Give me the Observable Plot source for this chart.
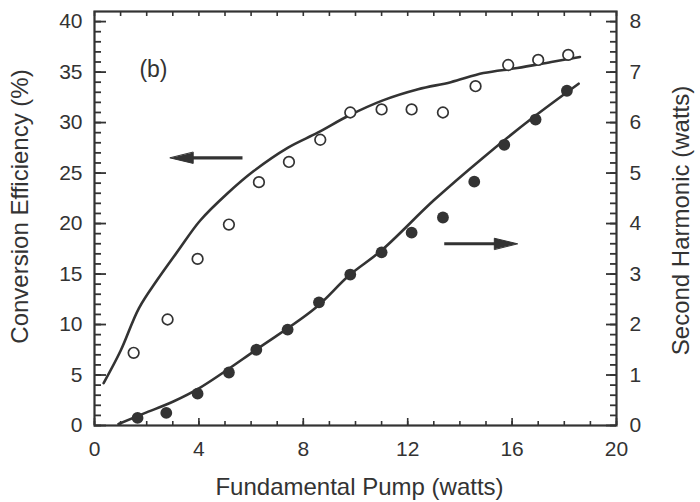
<!DOCTYPE html>
<html><head><meta charset="utf-8">
<script src="https://cdn.jsdelivr.net/npm/d3@7"></script>
<script src="https://cdn.jsdelivr.net/npm/@observablehq/plot@0.6"></script>
<style>html,body{margin:0;padding:0;background:#fff;} svg{display:block;}</style>
</head><body><div id="chart"></div>
<script>
// Measured data (open circles: conversion efficiency, left axis)
const pumpOpen   = [1.5, 2.8, 3.95, 5.15, 6.3, 7.45, 8.65, 9.8, 11.0, 12.15, 13.35, 14.6, 15.85, 17.0, 18.15];
const efficiency = [7.2, 10.5, 16.5, 19.9, 24.1, 26.1, 28.3, 31.0, 31.3, 31.3, 31.0, 33.6, 35.7, 36.2, 36.7];
// Measured data (filled circles: second harmonic, right axis)
const pumpFilled = [1.65, 2.75, 3.95, 5.15, 6.2, 7.4, 8.6, 9.8, 11.0, 12.15, 13.35, 14.55, 15.7, 16.9, 18.1];
const harmonic   = [0.15, 0.25, 0.63, 1.05, 1.5, 1.9, 2.44, 2.99, 3.43, 3.82, 4.12, 4.83, 5.56, 6.06, 6.63];
// Model curves
const effFitPump  = [0.35, 1.0, 1.7, 2.4, 3.2, 4.05, 5.1, 6.1, 7.4, 8.55, 9.75, 11.05, 12.4, 13.65, 14.9, 16.2, 17.5, 18.6];
const effFit      = [4.2, 7.4, 11.6, 14.4, 17.3, 20.3, 23.0, 25.2, 27.5, 29.0, 30.7, 32.2, 33.3, 34.0, 34.9, 35.4, 36.0, 36.5];
const harmFitPump = [0.92, 1.9, 3.0, 4.05, 6.25, 8.45, 9.75, 11.0, 13.0, 14.9, 16.8, 18.55];
const harmFit     = [0.03, 0.24, 0.47, 0.75, 1.52, 2.32, 2.97, 3.47, 4.46, 5.31, 6.1, 6.77];
// Tick labels
const xTickLabels = [0, 4, 8, 12, 16, 20];
const leftTickLabels = [0, 5, 10, 15, 20, 25, 30, 35, 40];
const rightTickLabels = [0, 1, 2, 3, 4, 5, 6, 7, 8];
// Text
const xTitle = "Fundamental Pump (watts)";
const leftTitle = "Conversion Efficiency (%)";
const rightTitle = "Second Harmonic (watts)";
const panelLabel = "(b)";
// Annotation arrows (pump, efficiency-axis units)
const arrowStart = [5.67, 13.4];
const arrowEnd   = [2.9, 16.2];
const arrowLevel = [26.5, 18.0];

const ink = "#333";
const W = 700, H = 502, ML = 94, MR = 84, MT = 11, MB = 77;
const innerW = W - ML - MR, innerH = H - MT - MB;
const toLeft = h => h * 5;          // 8 W on the right axis ↔ 40 % on the left axis
const xMinor = d3.range(0, 21, 1);
const yMinor = d3.range(0, 41, 1);

const openData = pumpOpen.map((x, i) => ({x, y: efficiency[i]}));
const filledData = pumpFilled.map((x, i) => ({x, y: toLeft(harmonic[i])}));
const effLine = effFitPump.map((x, i) => ({x, y: effFit[i]}));
const harmLine = harmFitPump.map((x, i) => ({x, y: toLeft(harmFit[i])}));
const arrows = arrowStart.map((x1, i) => ({x1, x2: arrowEnd[i], y: arrowLevel[i], dir: Math.sign(arrowEnd[i] - x1)}));

// filled triangular arrowhead for Plot.vector (points "up" before rotation)
const headShape = {
  draw(context, l) {
    const w = 5.5;
    context.moveTo(0, -l);
    context.lineTo(-w, 0);
    context.lineTo(w, 0);
    context.closePath();
  }
};

// inward ticks drawn as short tick marks hugging the frame
const tickBottom = (ticks, len) => Plot.tickX(ticks, {x: d => d, insetTop: innerH - len, stroke: ink, strokeWidth: 1.6});
const tickTop = (ticks, len) => Plot.tickX(ticks, {x: d => d, insetBottom: innerH - len, stroke: ink, strokeWidth: 1.6});
const tickLeft = (ticks, len) => Plot.tickY(ticks, {y: d => d, insetRight: innerW - len, stroke: ink, strokeWidth: 1.8});
const tickRight = (ticks, len) => Plot.tickY(ticks, {y: d => d, insetLeft: innerW - len, stroke: ink, strokeWidth: 1.8});

const chart = Plot.plot({
  width: W, height: H,
  marginLeft: ML, marginRight: MR, marginTop: MT, marginBottom: MB,
  x: {domain: [0, 20], axis: null},
  y: {domain: [0, 41], axis: null},
  style: {fontFamily: "'Liberation Sans', Arial, Helvetica, sans-serif", color: ink, background: "#fff"},
  marks: [
    tickBottom(xMinor, 4),
    tickBottom(xTickLabels, 7),
    tickTop(xMinor, 5),
    tickLeft(yMinor, 7),
    tickLeft(leftTickLabels, 12),
    tickRight(yMinor, 6),
    tickRight(rightTickLabels.map(toLeft), 10),
    // tick labels
    Plot.axisX(xTickLabels, {anchor: "bottom", tickSize: 0, tickPadding: 16, fontSize: 21, fill: ink, label: null}),
    Plot.axisY(leftTickLabels, {anchor: "left", tickSize: 0, tickPadding: 12, fontSize: 21, fill: ink, label: null}),
    Plot.axisY(rightTickLabels.map(toLeft), {anchor: "right", tickSize: 0, tickPadding: 13, fontSize: 21, fill: ink,
      tickFormat: d => d / 5, label: null}),
    Plot.frame({stroke: ink, strokeWidth: 2.2}),
    // curves
    Plot.line(effLine, {x: "x", y: "y", curve: "catmull-rom", stroke: ink, strokeWidth: 2.6}),
    Plot.line(harmLine, {x: "x", y: "y", curve: "catmull-rom", stroke: ink, strokeWidth: 2.6}),
    // data points
    Plot.dot(openData, {x: "x", y: "y", r: 5.3, stroke: ink, strokeWidth: 1.7, fill: "white"}),
    Plot.dot(filledData, {x: "x", y: "y", r: 5.9, fill: ink, stroke: "none"}),
    // arrows: shaft + filled head
    Plot.link(arrows, {x1: "x1", x2: d => d.x2 - d.dir * 0.5, y1: "y", y2: "y", stroke: ink, strokeWidth: 3.2}),
    Plot.vector(arrows, {x: "x2", y: "y", rotate: d => d.dir > 0 ? 90 : 270, length: 23, anchor: "end",
      shape: headShape, fill: ink, stroke: ink, strokeWidth: 1}),
    // panel label
    Plot.text([panelLabel], {x: 2.26, y: 35.2, text: d => d, fontSize: 23, fill: ink}),
    // axis titles
    Plot.text([xTitle], {frameAnchor: "bottom", text: d => d, dx: 4, dy: 69, fontSize: 24, fill: ink}),
    Plot.text([leftTitle], {frameAnchor: "left", text: d => d, textAnchor: "middle", dx: -74, dy: -12, rotate: -90, fontSize: 24, fill: ink}),
    Plot.text([rightTitle], {frameAnchor: "right", text: d => d, textAnchor: "middle", dx: 65, dy: 2, rotate: -90, fontSize: 24, fill: ink})
  ]
});
document.getElementById("chart").appendChild(chart);
</script>
</body></html>
